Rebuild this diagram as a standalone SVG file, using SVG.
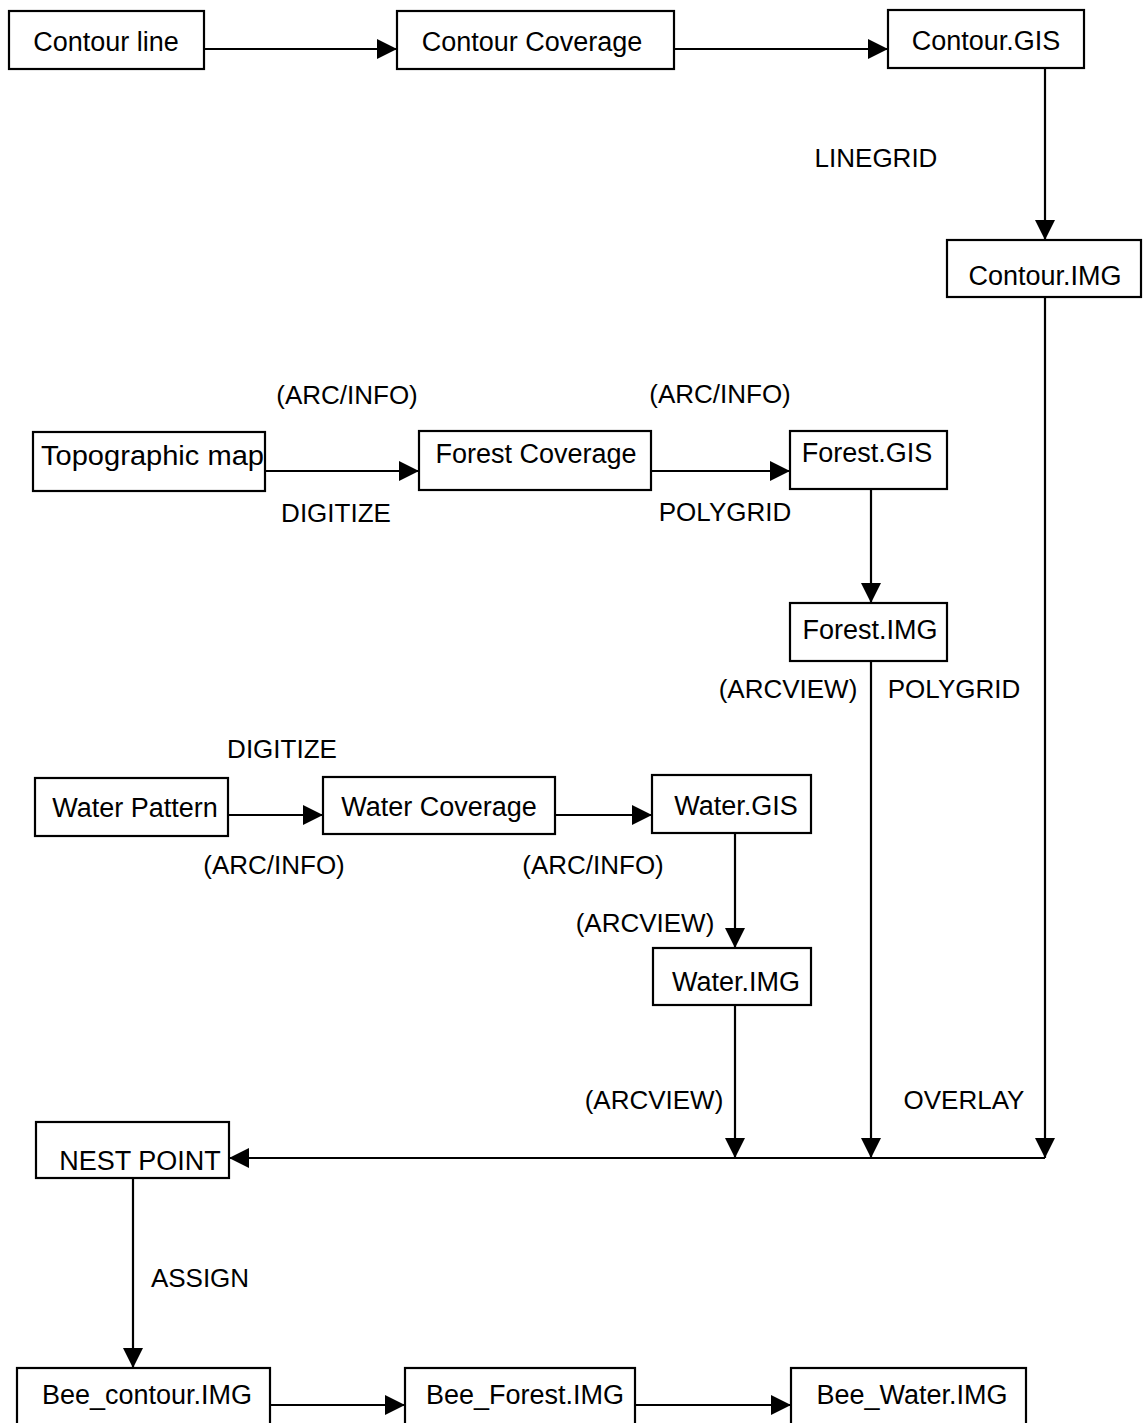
<svg xmlns="http://www.w3.org/2000/svg" width="1143" height="1423" viewBox="0 0 1143 1423">
<defs>
<marker id="ah" markerUnits="userSpaceOnUse" markerWidth="20" markerHeight="20" refX="20" refY="10" orient="auto">
<path d="M0,0 L20,10 L0,20 Z" fill="#000"/>
</marker>
<style>
.box{fill:#fff;stroke:#000;stroke-width:2.2}
text{font-family:"Liberation Sans",Arial,sans-serif;font-size:27px;fill:#000;text-anchor:middle}
.lbl{font-size:26px}
.c{fill:none;stroke:#000;stroke-width:2.2}
</style>
</defs>
<rect width="1143" height="1423" fill="#fff"/>
<g id="connectors">
<line class="c" x1="204" y1="49" x2="397" y2="49" marker-end="url(#ah)"/>
<line class="c" x1="674" y1="49" x2="888" y2="49" marker-end="url(#ah)"/>
<line class="c" x1="1045" y1="68" x2="1045" y2="240" marker-end="url(#ah)"/>
<line class="c" x1="265" y1="471" x2="419" y2="471" marker-end="url(#ah)"/>
<line class="c" x1="651" y1="471" x2="790" y2="471" marker-end="url(#ah)"/>
<line class="c" x1="871" y1="489" x2="871" y2="603" marker-end="url(#ah)"/>
<line class="c" x1="228" y1="815" x2="323" y2="815" marker-end="url(#ah)"/>
<line class="c" x1="555" y1="815" x2="652" y2="815" marker-end="url(#ah)"/>
<line class="c" x1="735" y1="833" x2="735" y2="948" marker-end="url(#ah)"/>
<line class="c" x1="1045" y1="297" x2="1045" y2="1158" marker-end="url(#ah)"/>
<line class="c" x1="871" y1="661" x2="871" y2="1158" marker-end="url(#ah)"/>
<line class="c" x1="735" y1="1005" x2="735" y2="1158" marker-end="url(#ah)"/>
<line class="c" x1="1045" y1="1158" x2="229" y2="1158" marker-end="url(#ah)"/>
<line class="c" x1="133" y1="1178" x2="133" y2="1368" marker-end="url(#ah)"/>
<line class="c" x1="270" y1="1405" x2="405" y2="1405" marker-end="url(#ah)"/>
<line class="c" x1="635" y1="1405" x2="791" y2="1405" marker-end="url(#ah)"/>
</g>
<g id="labels">
<text class="lbl" x="876" y="167">LINEGRID</text>
<text class="lbl" x="347" y="404">(ARC/INFO)</text>
<text class="lbl" x="720" y="403">(ARC/INFO)</text>
<text class="lbl" x="336" y="522">DIGITIZE</text>
<text class="lbl" x="725" y="521">POLYGRID</text>
<text class="lbl" x="788" y="698">(ARCVIEW)</text>
<text class="lbl" x="954" y="698">POLYGRID</text>
<text class="lbl" x="282" y="758">DIGITIZE</text>
<text class="lbl" x="274" y="874">(ARC/INFO)</text>
<text class="lbl" x="593" y="874">(ARC/INFO)</text>
<text class="lbl" x="645" y="932">(ARCVIEW)</text>
<text class="lbl" x="654" y="1109">(ARCVIEW)</text>
<text class="lbl" x="964" y="1109">OVERLAY</text>
<text class="lbl" x="200" y="1287">ASSIGN</text>
</g>
<g id="contour_line"><rect class="box" x="9" y="11" width="195" height="58"/><text x="106" y="51">Contour line</text></g>
<g id="contour_coverage"><rect class="box" x="397" y="11" width="277" height="58"/><text x="532" y="51">Contour Coverage</text></g>
<g id="contour_gis"><rect class="box" x="888" y="10" width="196" height="58"/><text x="986" y="50">Contour.GIS</text></g>
<g id="contour_img"><rect class="box" x="947" y="240" width="194" height="57"/><text x="1045" y="285">Contour.IMG</text></g>
<g id="topographic_map"><rect class="box" x="33" y="432" width="232" height="59"/><text x="41" y="465" style="text-anchor:start" textLength="223" lengthAdjust="spacingAndGlyphs">Topographic map</text></g>
<g id="forest_coverage"><rect class="box" x="419" y="431" width="232" height="59"/><text x="536" y="463">Forest Coverage</text></g>
<g id="forest_gis"><rect class="box" x="790" y="431" width="157" height="58"/><text x="867" y="462">Forest.GIS</text></g>
<g id="forest_img"><rect class="box" x="790" y="603" width="157" height="58"/><text x="870" y="639">Forest.IMG</text></g>
<g id="water_pattern"><rect class="box" x="35" y="778" width="193" height="58"/><text x="135" y="817">Water Pattern</text></g>
<g id="water_coverage"><rect class="box" x="323" y="777" width="232" height="57"/><text x="439" y="816">Water Coverage</text></g>
<g id="water_gis"><rect class="box" x="652" y="775" width="159" height="58"/><text x="736" y="815">Water.GIS</text></g>
<g id="water_img"><rect class="box" x="653" y="948" width="158" height="57"/><text x="736" y="991">Water.IMG</text></g>
<g id="nest_point"><rect class="box" x="36" y="1122" width="193" height="56"/><text x="140" y="1170">NEST POINT</text></g>
<g id="bee_contour"><rect class="box" x="17" y="1368" width="253" height="70"/><text x="147" y="1404">Bee_contour.IMG</text></g>
<g id="bee_forest"><rect class="box" x="405" y="1368" width="230" height="70"/><text x="525" y="1404">Bee_Forest.IMG</text></g>
<g id="bee_water"><rect class="box" x="791" y="1368" width="235" height="70"/><text x="912" y="1404">Bee_Water.IMG</text></g>
</svg>
